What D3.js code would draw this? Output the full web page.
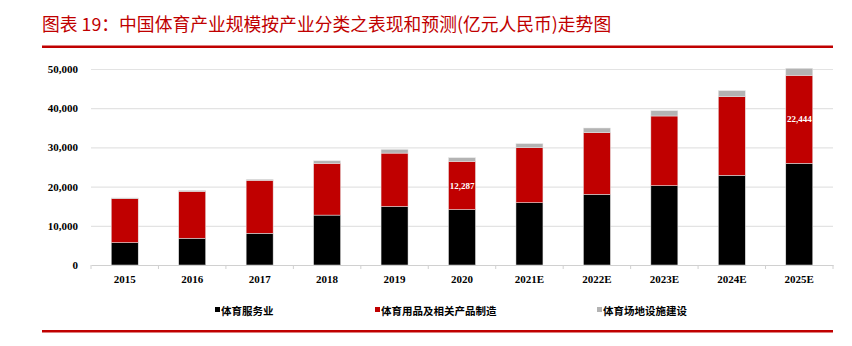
<!DOCTYPE html>
<html><head><meta charset="utf-8">
<script src="https://cdn.jsdelivr.net/npm/d3@7"></script>
<style>body{margin:0;background:#fff;}svg{display:block;}</style>
</head><body><svg id="c" width="852" height="346"></svg>
<script>
const categories = ["2015","2016","2017","2018","2019","2020","2021E","2022E","2023E","2024E","2025E"];
const services = [5713,6827,8100,12732,14930,14136,15900,18030,20240,22880,25940];
const goods = [11238,11962,13509,13201,13614,12287,14030,15730,17770,20060,22444];
const facilities = [156,222,240,646,939,949,1020,1190,1360,1530,1790];
const seriesNames = ["体育服务业","体育用品及相关产品制造","体育场地设施建设"];
const seriesColors = ["#000000","#c00000","#b3b3b3"];
const yTicks = [0,10000,20000,30000,40000,50000];
const labeled = [{cat:"2020", value:12287},{cat:"2025E", value:22444}];

const svg = d3.select("#c");
const serif = "'Liberation Serif','Times New Roman',serif";
const cjk = "'Noto Sans CJK SC',sans-serif";

// title
svg.append("text").attr("x",42).attr("y",31).attr("fill","#c00000")
  .attr("font-family",cjk).attr("font-size",17.8)
  .text("图表 19：中国体育产业规模按产业分类之表现和预测(亿元人民币)走势图");
svg.append("rect").attr("x",42).attr("y",45.5).attr("width",791).attr("height",2.5).attr("fill","#c00000");
svg.append("rect").attr("x",42).attr("y",330).attr("width",791).attr("height",2.5).attr("fill","#c00000");

const x = d3.scaleBand().domain(categories).range([91,833]).paddingInner(0.6).paddingOuter(0.3);
const y = d3.scaleLinear().domain([0,50000]).range([265,69]);

// gridlines
svg.append("g").selectAll("line").data(yTicks.filter(d=>d>0)).join("line")
  .attr("x1",91).attr("x2",833).attr("y1",d=>y(d)+0.5).attr("y2",d=>y(d)+0.5)
  .attr("stroke","#e3e3e3").attr("stroke-width",1.2);

// y axis labels
const yAxis = d3.axisLeft(y).tickValues(yTicks).tickSize(0).tickPadding(0).tickFormat(d3.format(","));
const ga = svg.append("g").attr("transform","translate(78,0)").call(yAxis);
ga.select(".domain").remove();
ga.selectAll("text").attr("font-family",serif).attr("font-weight","bold").attr("font-size",11).attr("fill","#000");

// stacked bars
const rows = categories.map((c,i)=>({cat:c, s0:services[i], s1:goods[i], s2:facilities[i]}));
const stack = d3.stack().keys(["s0","s1","s2"])(rows);
svg.append("g").selectAll("g").data(stack).join("g").attr("fill",(d,i)=>seriesColors[i])
  .selectAll("rect").data(d=>d).join("rect")
  .attr("x",d=>x(d.data.cat)).attr("width",x.bandwidth())
  .attr("y",d=>y(d[1])).attr("height",d=>y(d[0])-y(d[1]))
  .attr("stroke","#e8e8e8").attr("stroke-width",0.5);

// value labels
svg.append("g").selectAll("text").data(labeled).join("text")
  .attr("x",d=>x(d.cat)+x.bandwidth()/2)
  .attr("y",d=>{const i=categories.indexOf(d.cat);return (y(services[i])+y(services[i]+goods[i]))/2+3;})
  .attr("text-anchor","middle").attr("fill","#fff").attr("font-family",serif).attr("font-weight","bold").attr("font-size",9)
  .text(d=>d3.format(",")(d.value));

// x axis
const xAxis = d3.axisBottom(x).tickSize(0).tickPadding(10);
const gx = svg.append("g").attr("transform","translate(0,265)").call(xAxis);
gx.select(".domain").attr("stroke","#d0d0d0").attr("stroke-width",1.2);
gx.selectAll("text").attr("font-family",serif).attr("font-weight","bold").attr("font-size",11).attr("fill","#000");
const bounds = d3.range(categories.length+1).map(i=>91+i*(742/11));
gx.append("g").selectAll("line").data(bounds).join("line")
  .attr("x1",d=>d).attr("x2",d=>d).attr("y1",0).attr("y2",4).attr("stroke","#d0d0d0");

// legend
const legX = [215,375,597];
const lg = svg.append("g").selectAll("g").data(seriesNames).join("g")
  .attr("transform",(d,i)=>`translate(${legX[i]},311)`);
lg.append("rect").attr("x",0).attr("y",-4).attr("width",5).attr("height",5).attr("fill",(d,i)=>seriesColors[i]);
lg.append("text").attr("x",6).attr("y",4).attr("font-family",cjk).attr("font-weight","bold").attr("font-size",10.5).attr("fill","#000").text(d=>d);
</script></body></html>
